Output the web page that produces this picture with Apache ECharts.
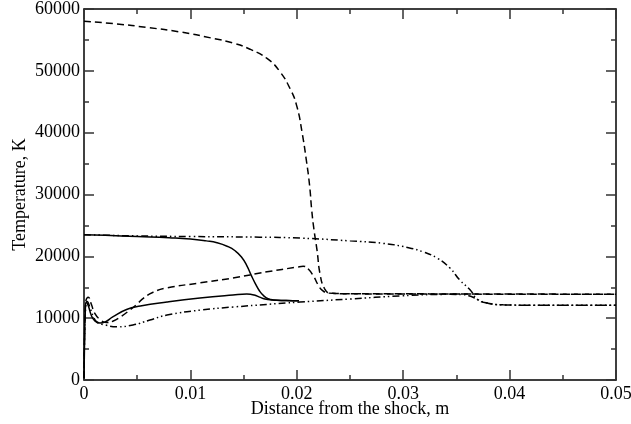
<!DOCTYPE html>
<html><head><meta charset="utf-8">
<script src="https://cdn.jsdelivr.net/npm/echarts@6/dist/echarts.min.js"></script>
<style>html,body{margin:0;padding:0;background:#fff}#c{width:631px;height:424px}</style>
</head><body><div id="c"></div>
<script>
var xTickLabels = ['0', '0.01', '0.02', '0.03', '0.04', '0.05'];
var yTickLabels = ['0', '10000', '20000', '30000', '40000', '50000', '60000'];

// Case 1 (solid): translational T
var xSolidT = [0, 0.002, 0.005, 0.008, 0.010, 0.0115, 0.0125, 0.0135, 0.0142, 0.0148, 0.0153, 0.0157, 0.0161, 0.0165, 0.0169, 0.0173, 0.0178, 0.019, 0.0202];
var ySolidT = [23500, 23400, 23200, 23000, 22800, 22500, 22200, 21600, 20900, 19900, 18500, 17000, 15600, 14400, 13600, 13150, 12950, 12850, 12800];
// Case 1 (solid): vibrational T
var xSolidTv = [0, 0.00005, 0.00012, 0.0002, 0.0004, 0.0007, 0.001, 0.0015, 0.002, 0.0027, 0.004, 0.0053, 0.0078, 0.0109, 0.014, 0.0153, 0.0160, 0.0165, 0.0170, 0.0176, 0.019, 0.0202];
var ySolidTv = [300, 6000, 11000, 12600, 12000, 10400, 9600, 9200, 9400, 10200, 11400, 11950, 12600, 13250, 13750, 13900, 13750, 13400, 13100, 12950, 12850, 12800];
// Case 2 (dashed): T
var xDashT = [0, 0.003, 0.006, 0.009, 0.012, 0.014, 0.0156, 0.0172, 0.0184, 0.0194, 0.0200, 0.0205, 0.0209, 0.0212, 0.0214, 0.0216, 0.0219, 0.0222, 0.0226, 0.0231, 0.025, 0.03, 0.035, 0.04, 0.045, 0.05];
var yDashT = [58000, 57600, 57000, 56300, 55300, 54500, 53500, 52000, 49900, 47000, 44300, 40000, 35500, 31500, 27500, 24500, 21000, 17000, 14800, 14050, 13950, 13900, 13900, 13850, 13850, 13850];
// Case 2 (dashed): Tv
var xDashTv = [0, 0.00005, 0.00015, 0.0004, 0.0007, 0.001, 0.0015, 0.0021, 0.0027, 0.0035, 0.0043, 0.005, 0.0056, 0.0065, 0.0078, 0.0109, 0.014, 0.0172, 0.0200, 0.0206, 0.0211, 0.0216, 0.0220, 0.0224, 0.0230, 0.025, 0.03, 0.035, 0.04, 0.05];
var yDashTv = [300, 7000, 12500, 13400, 12200, 10800, 9800, 9300, 9500, 10300, 11300, 12300, 13250, 14200, 14900, 15700, 16500, 17500, 18250, 18400, 17900, 16700, 15400, 14500, 14050, 13950, 13950, 13900, 13900, 13850];
// Case 3 (dash-dot-dot): T
var xDdT = [0, 0.005, 0.010, 0.0165, 0.0203, 0.025, 0.0281, 0.0305, 0.0319, 0.0332, 0.0344, 0.0353, 0.0363, 0.037, 0.0379, 0.0394, 0.042, 0.05];
var yDdT = [23500, 23300, 23200, 23100, 22950, 22500, 22100, 21400, 20700, 19700, 18100, 16200, 14550, 13000, 12450, 12150, 12100, 12100];
// Case 3 (dash-dot-dot): Tv
var xDdTv = [0, 0.00005, 0.00015, 0.0003, 0.0006, 0.0009, 0.0012, 0.002, 0.0031, 0.0046, 0.0062, 0.0078, 0.0109, 0.014, 0.0203, 0.025, 0.0297, 0.0344, 0.0356, 0.0364, 0.037, 0.0379, 0.0394, 0.042, 0.05];
var yDdTv = [300, 6500, 11500, 12700, 11500, 10200, 9400, 8900, 8600, 8900, 9700, 10500, 11300, 11800, 12600, 13100, 13600, 13850, 13800, 13500, 13000, 12450, 12150, 12100, 12100];

function zip(a, b) { return a.map(function (v, i) { return [v, b[i]]; }); }
var FONT = 'Liberation Serif';
var BLACK = '#000';

function mkX(pos, showLabel) {
  return {
    type: 'value', position: pos, min: 0, max: 0.05, interval: 0.01,
    name: showLabel ? 'Distance from the shock, m' : '', nameLocation: 'middle', nameGap: 20,
    nameMoveOverlap: false,
    nameTextStyle: { fontFamily: FONT, fontSize: 18, color: BLACK },
    axisLine: { show: true, onZero: false, lineStyle: { color: BLACK, width: 1.5 } },
    axisTick: { show: true, inside: true, length: 10, lineStyle: { color: '#333', width: 1.5 } },
    minorTick: { show: true, splitNumber: 2, length: 5, lineStyle: { color: '#333', width: 1.5 } },
    axisLabel: { show: showLabel, fontFamily: FONT, fontSize: 18, color: BLACK, margin: 5,
      formatter: function (v) { return xTickLabels[Math.round(v / 0.01)]; } },
    splitLine: { show: false }
  };
}
function mkY(pos, showLabel) {
  return {
    type: 'value', position: pos, min: 0, max: 60000, interval: 10000,
    name: showLabel ? 'Temperature, K' : '', nameLocation: 'middle', nameGap: 55, nameRotate: 90,
    nameMoveOverlap: false,
    nameTextStyle: { fontFamily: FONT, fontSize: 18, color: BLACK },
    axisLine: { show: true, onZero: false, lineStyle: { color: BLACK, width: 1.5 } },
    axisTick: { show: true, inside: true, length: 10, lineStyle: { color: '#333', width: 1.5 } },
    minorTick: { show: true, splitNumber: 2, length: 5, lineStyle: { color: '#333', width: 1.5 } },
    axisLabel: { show: showLabel, fontFamily: FONT, fontSize: 18, color: BLACK, margin: 4,
      formatter: function (v) { return yTickLabels[Math.round(v / 10000)]; } },
    splitLine: { show: false }
  };
}
function line(d, type) {
  return { type: 'line', data: d, showSymbol: false, symbol: 'none', smooth: 0.5,
    lineStyle: { color: BLACK, width: 1.5, type: type }, animation: false, z: 3 };
}
var DASH = [7, 4];
var DDOT = [7, 3, 1.5, 3, 1.5, 3];
var chart = echarts.init(document.getElementById('c'), null, { renderer: 'canvas' });
chart.setOption({
  animation: false,
  backgroundColor: '#fff',
  grid: { left: 84, right: 15, top: 9, bottom: 44, containLabel: false, outerBoundsMode: 'none' },
  xAxis: [mkX('bottom', true), mkX('top', false)],
  yAxis: [mkY('left', true), mkY('right', false)],
  series: [
    line(zip(xSolidT, ySolidT), 'solid'),
    line(zip(xSolidTv, ySolidTv), 'solid'),
    line(zip(xDashT, yDashT), DASH),
    line(zip(xDashTv, yDashTv), DASH),
    line(zip(xDdT, yDdT), DDOT),
    line(zip(xDdTv, yDdTv), DDOT)
  ]
});
</script></body></html>
